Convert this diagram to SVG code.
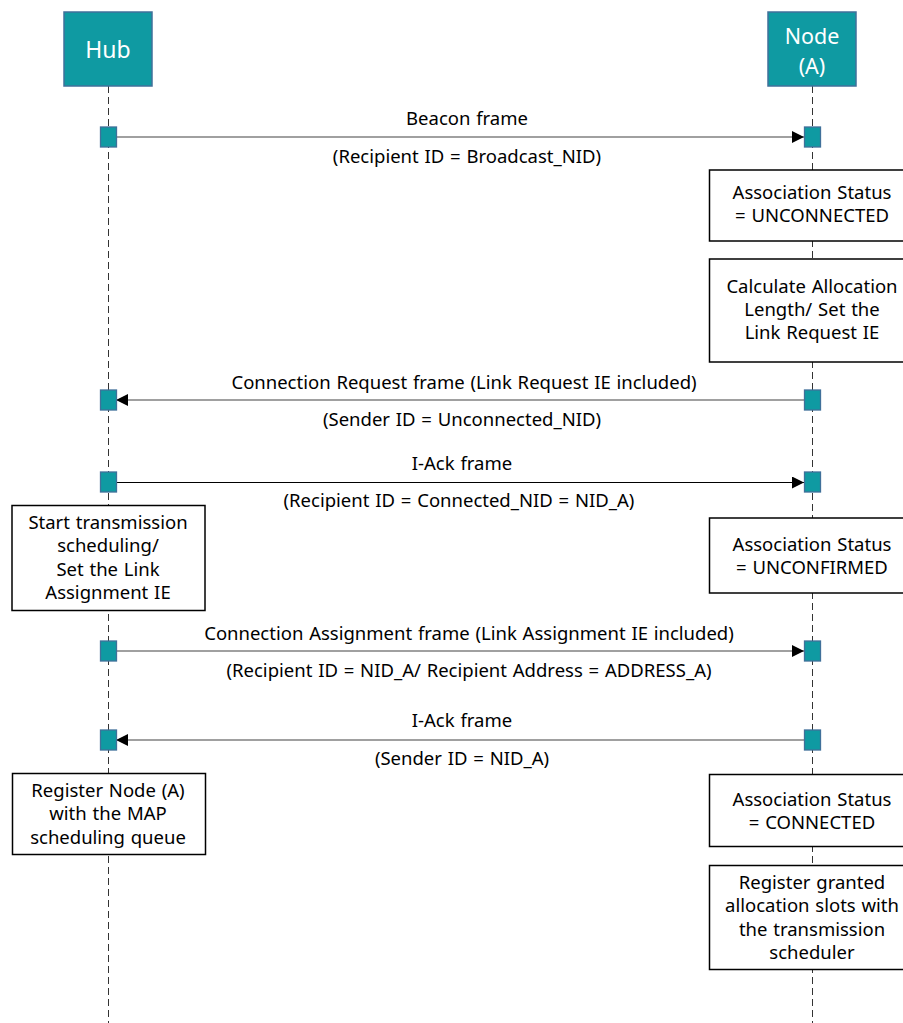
<svg xmlns="http://www.w3.org/2000/svg" width="903" height="1023" viewBox="0 0 903 1023">
  <style>
    .actor { fill: #0f9aa2; stroke: #40709a; stroke-width: 1.5; }
    .actor-label { fill: #ffffff; font-family: "Noto Sans", "Open Sans", sans-serif; font-size: 23px; text-anchor: middle; }
    .actor-label-sm { fill: #ffffff; font-family: "Noto Sans", "Open Sans", sans-serif; font-size: 21.5px; text-anchor: middle; }
    .lifeline { stroke: #333333; stroke-width: 1; stroke-dasharray: 7 4; fill: none; }
    .act { fill: #0f9aa2; stroke: #40709a; stroke-width: 1.3; }
    .note { fill: #ffffff; stroke: #000000; stroke-width: 1.5; }
    .txt { fill: #000000; font-family: "Noto Sans", "Open Sans", sans-serif; font-size: 18.5px; text-anchor: middle; word-spacing: 1px; }
    .msg { stroke: #808080; stroke-width: 1.4; fill: none; }
    .msg-dark { stroke: #000000; stroke-width: 1; fill: none; }
  </style>
  <defs>
    <marker id="arrow" viewBox="0 0 10 10" refX="10" refY="5" markerWidth="12" markerHeight="12" markerUnits="userSpaceOnUse" orient="auto">
      <path d="M0,0 L10,5 L0,10 z" fill="#000000"/>
    </marker>
  </defs>
  <rect width="903" height="1023" fill="#ffffff"/>

  <!-- lifelines -->
  <g id="lifelines">
    <line class="lifeline" x1="108.5" y1="86" x2="108.5" y2="1023"/>
    <line class="lifeline" x1="812.5" y1="86" x2="812.5" y2="1023"/>
  </g>

  <!-- actors -->
  <g id="hub">
    <rect class="actor" x="64" y="12" width="88" height="74"/>
    <text class="actor-label" x="108" y="58">Hub</text>
  </g>
  <g id="node-a">
    <rect class="actor" x="768" y="12" width="88" height="74"/>
    <text class="actor-label-sm" x="812" y="44">Node</text>
    <text class="actor-label-sm" x="812" y="74">(A)</text>
  </g>

  <!-- messages -->
  <g id="connectors">
    <line class="msg" x1="116" y1="137" x2="804" y2="137" marker-end="url(#arrow)"/>
    <line class="msg" x1="804" y1="400" x2="116" y2="400" marker-end="url(#arrow)"/>
    <line class="msg-dark" x1="116" y1="482.5" x2="804" y2="482.5" marker-end="url(#arrow)"/>
    <line class="msg" x1="116" y1="651" x2="804" y2="651" marker-end="url(#arrow)"/>
    <line class="msg" x1="804" y1="740" x2="116" y2="740" marker-end="url(#arrow)"/>
  </g>

  <!-- message labels -->
  <g id="labels">
    <text class="txt" x="467" y="125">Beacon frame</text>
    <text class="txt" x="467" y="163">(Recipient ID = Broadcast_NID)</text>
    <text class="txt" x="464" y="389">Connection Request frame (Link Request IE included)</text>
    <text class="txt" x="462" y="426">(Sender ID = Unconnected_NID)</text>
    <text class="txt" x="462" y="470">I-Ack frame</text>
    <text class="txt" x="459" y="507">(Recipient ID = Connected_NID = NID_A)</text>
    <text class="txt" x="469" y="640">Connection Assignment frame (Link Assignment IE included)</text>
    <text class="txt" x="469" y="677">(Recipient ID = NID_A/ Recipient Address = ADDRESS_A)</text>
    <text class="txt" x="462" y="727">I-Ack frame</text>
    <text class="txt" x="462" y="765">(Sender ID = NID_A)</text>
  </g>

  <!-- activation bars -->
  <g id="activations">
    <rect class="act" x="100.5" y="127" width="16" height="20"/>
    <rect class="act" x="804.5" y="127" width="16" height="20"/>
    <rect class="act" x="100.5" y="390" width="16" height="20"/>
    <rect class="act" x="804.5" y="390" width="16" height="20"/>
    <rect class="act" x="100.5" y="472" width="16" height="20"/>
    <rect class="act" x="804.5" y="472" width="16" height="20"/>
    <rect class="act" x="100.5" y="641" width="16" height="20"/>
    <rect class="act" x="804.5" y="641" width="16" height="20"/>
    <rect class="act" x="100.5" y="730" width="16" height="20"/>
    <rect class="act" x="804.5" y="730" width="16" height="20"/>
  </g>

  <!-- notes -->
  <g id="note-unconnected">
    <rect class="note" x="709.5" y="170" width="200" height="71"/>
    <text class="txt" x="812" y="199">Association Status</text>
    <text class="txt" x="812" y="222">= UNCONNECTED</text>
  </g>
  <g id="note-calc">
    <rect class="note" x="709.5" y="259" width="200" height="103"/>
    <text class="txt" x="812" y="293">Calculate Allocation</text>
    <text class="txt" x="812" y="316">Length/ Set the</text>
    <text class="txt" x="812" y="339">Link Request IE</text>
  </g>
  <g id="note-start">
    <rect class="note" x="12" y="505.5" width="193" height="105"/>
    <text class="txt" x="108" y="529">Start transmission</text>
    <text class="txt" x="108" y="552">scheduling/</text>
    <text class="txt" x="108" y="576">Set the Link</text>
    <text class="txt" x="108" y="599">Assignment IE</text>
  </g>
  <g id="note-unconfirmed">
    <rect class="note" x="709.5" y="518" width="200" height="75"/>
    <text class="txt" x="812" y="551">Association Status</text>
    <text class="txt" x="812" y="574">= UNCONFIRMED</text>
  </g>
  <g id="note-register-node">
    <rect class="note" x="12.5" y="773.5" width="193" height="81"/>
    <text class="txt" x="108" y="797">Register Node (A)</text>
    <text class="txt" x="108" y="820">with the MAP</text>
    <text class="txt" x="108" y="844">scheduling queue</text>
  </g>
  <g id="note-connected">
    <rect class="note" x="709.5" y="774.5" width="200" height="72"/>
    <text class="txt" x="812" y="806">Association Status</text>
    <text class="txt" x="812" y="829">= CONNECTED</text>
  </g>
  <g id="note-register-slots">
    <rect class="note" x="709.5" y="865.5" width="200" height="104"/>
    <text class="txt" x="812" y="889">Register granted</text>
    <text class="txt" x="812" y="912">allocation slots with</text>
    <text class="txt" x="812" y="936">the transmission</text>
    <text class="txt" x="812" y="959">scheduler</text>
  </g>
</svg>
